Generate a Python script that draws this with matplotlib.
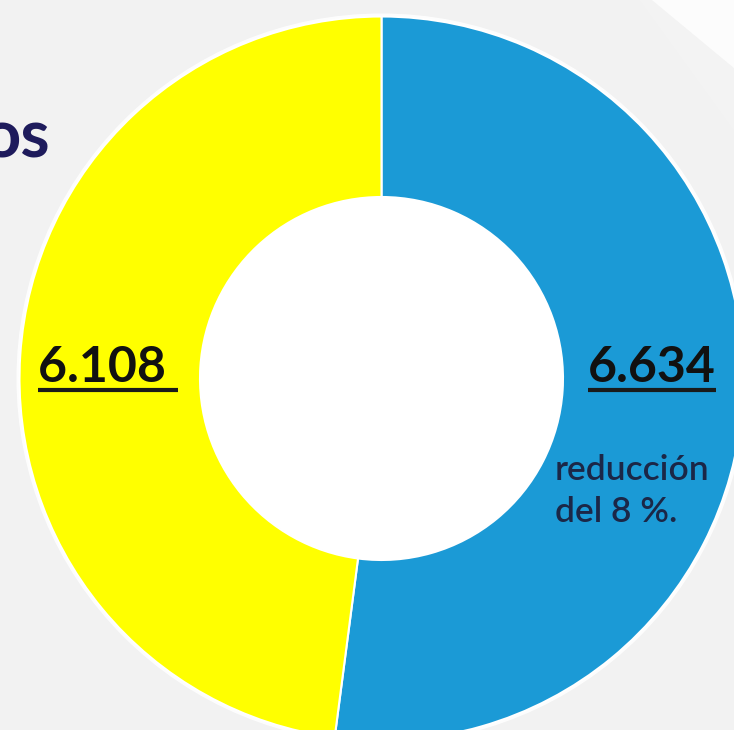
import matplotlib.pyplot as plt
from matplotlib.patches import Circle, Polygon

# valores del gráfico
etiquetas = ["6.634", "6.108 "]
valores = [6.634, 6.108]
colores = ["#1b9ad6", "#ffff00"]
nota = ["reducción", "del 8 %."]

W, H = 734, 730
fondo = "#f2f2f2"

fig = plt.figure(figsize=(W / 100, H / 100), dpi=100, facecolor=fondo)
ax = fig.add_axes([0, 0, 1, 1])
ax.set_facecolor(fondo)

# zona más clara arriba a la derecha
ax.add_patch(Polygon([(652, H), (W, H), (W, H - 68)], closed=True,
                     facecolor="white", edgecolor="none", alpha=0.8, zorder=0))
ax.add_patch(Polygon([(640, H), (W, H), (W, H - 130)], closed=True,
                     facecolor="white", edgecolor="none", alpha=0.15, zorder=0))

cx, cy = 381.5, H - 378.5
r_ext, r_int = 362, 181.5

# halo blanco alrededor del anillo
ax.add_patch(Circle((cx, cy), r_ext + 3, facecolor="white", edgecolor="none",
                    alpha=0.9, zorder=1))

wedges, _ = ax.pie(valores, colors=colores, startangle=90, counterclock=False,
                   center=(cx, cy), radius=r_ext,
                   wedgeprops=dict(width=r_ext - r_int, edgecolor="white",
                                   linewidth=1.5, zorder=2))
ax.add_patch(Circle((cx, cy), r_int, facecolor="white", edgecolor="none", zorder=3))

ax.set_xlim(0, W)
ax.set_ylim(0, H)
ax.set_aspect("auto")
ax.axis("off")

fuente = ["Lato", "DejaVu Sans"]

# cifras subrayadas
t1 = ax.text(38, H - 382, etiquetas[1], fontsize=36, fontweight="bold",
             family=fuente, color="#111111", ha="left", va="baseline", zorder=5)
t2 = ax.text(716, H - 382, etiquetas[0], fontsize=36, fontweight="bold",
             family=fuente, color="#111111", ha="right", va="baseline", zorder=5)

fig.canvas.draw()
rend = fig.canvas.get_renderer()
inv = ax.transData.inverted()
for t in (t1, t2):
    bb = t.get_window_extent(renderer=rend)
    (x0, _), (x1, _) = inv.transform([(bb.x0, bb.y0), (bb.x1, bb.y1)])
    ax.plot([x0, x1], [H - 390, H - 390], color="#1a1a1a", lw=3,
            solid_capstyle="butt", zorder=5)

for i, linea in enumerate(nota):
    ax.text(555, H - 480 - 42 * i, linea, fontsize=25.5, fontweight="semibold",
            family=fuente, color="#1b2747", ha="left", va="baseline", zorder=5)

# resto del título, cortado por el borde
ax.text(50, H - 157, "os", fontsize=48, fontweight="bold", family=fuente,
        color="#1e1b5c", ha="right", va="baseline", zorder=5)

fig.savefig("out.png", dpi=100, facecolor=fondo)
